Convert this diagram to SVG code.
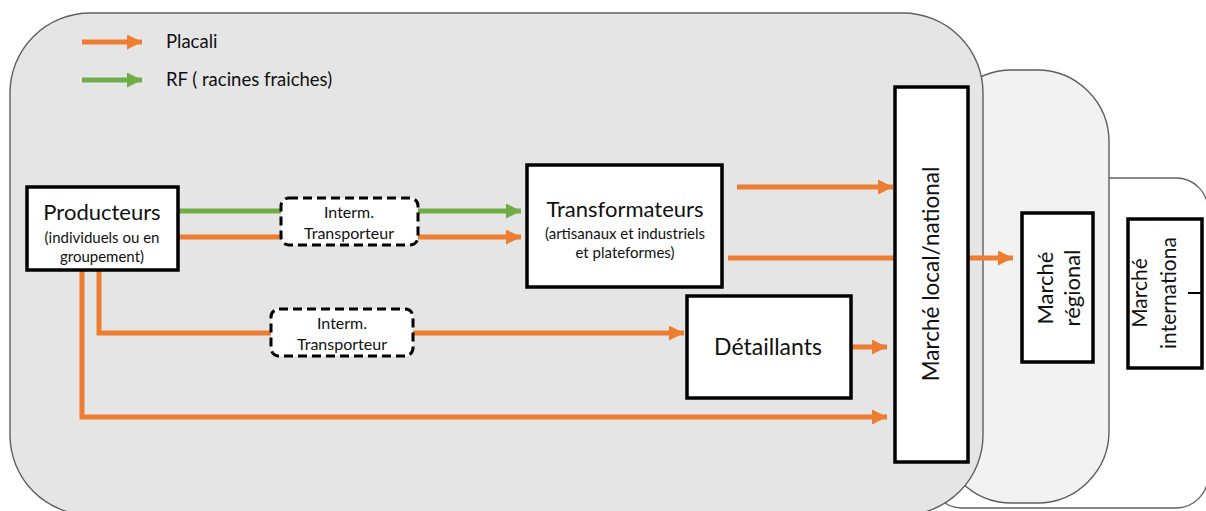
<svg xmlns="http://www.w3.org/2000/svg" width="1206" height="511" viewBox="0 0 1206 511">
  <defs>
    <marker id="ah-orange" markerWidth="4" markerHeight="4" refX="3" refY="1.5" orient="auto" markerUnits="strokeWidth">
      <path d="M0,0 L3,1.5 L0,3 Z" fill="#ED7D31"/>
    </marker>
    <marker id="ah-green" markerWidth="4" markerHeight="4" refX="3" refY="1.5" orient="auto" markerUnits="strokeWidth">
      <path d="M0,0 L3,1.5 L0,3 Z" fill="#70AD47"/>
    </marker>
    <style>
      .panel { stroke: #5f5f5f; stroke-width: 1.4; }
      .box { fill: #ffffff; stroke: #000000; stroke-width: 3.5; }
      .dash { fill: #ffffff; stroke: #000000; stroke-width: 3; stroke-dasharray: 9 5; }
      .or { fill: none; stroke: #ED7D31; stroke-width: 5; }
      .or-a { fill: none; stroke: #ED7D31; stroke-width: 5; marker-end: url(#ah-orange); }
      .gr { fill: none; stroke: #70AD47; stroke-width: 5; }
      .gr-a { fill: none; stroke: #70AD47; stroke-width: 5; marker-end: url(#ah-green); }
      text { font-family: Lato, "Open Sans", "Liberation Sans", sans-serif; fill: #111111; }
      .big { font-size: 22px; text-anchor: middle; }
      .sub { font-size: 15px; text-anchor: middle; }
      .mid { font-size: 16px; text-anchor: middle; }
      .leg { font-size: 18.5px; }
    </style>
  </defs>

  <!-- market scopes, back to front -->
  <g id="scope-international">
    <rect class="panel" x="930" y="178" width="278" height="330" rx="32" ry="32" fill="#ffffff"/>
  </g>
  <g id="scope-regional">
    <rect class="panel" x="940" y="70" width="169" height="433" rx="72" ry="72" fill="#f2f2f2"/>
  </g>
  <g id="scope-national">
    <rect class="panel" x="10" y="13" width="973" height="502" rx="80" ry="80" fill="#e6e5e6"/>
  </g>

  <!-- legend -->
  <g id="legend">
    <line class="or-a" x1="82" y1="42" x2="142" y2="42"/>
    <text class="leg" x="166" y="48">Placali</text>
    <line class="gr-a" x1="82" y1="80" x2="142" y2="80"/>
    <text class="leg" x="166" y="86">RF ( racines fraiches)</text>
  </g>

  <!-- flows -->
  <g id="connectors">
    <line class="gr" x1="178" y1="211" x2="281" y2="211"/>
    <line class="gr-a" x1="418" y1="211" x2="521" y2="211"/>
    <line class="or" x1="178" y1="237" x2="281" y2="237"/>
    <line class="or-a" x1="418" y1="237" x2="521" y2="237"/>
    <polyline class="or" points="99,270 99,333 271,333"/>
    <line class="or-a" x1="413" y1="333" x2="684" y2="333"/>
    <polyline class="or-a" points="82,270 82,417 887,417"/>
    <line class="or-a" x1="737" y1="187" x2="893" y2="187"/>
    <line class="or" x1="728" y1="258" x2="895" y2="258"/>
    <line class="or-a" x1="969" y1="258" x2="1013" y2="258"/>
    <line class="or-a" x1="851" y1="347" x2="887" y2="347"/>
  </g>

  <g id="producteurs">
    <rect class="box" x="27" y="187" width="151" height="83"/>
    <text class="big" x="102" y="220">Producteurs</text>
    <text class="sub" x="102" y="243">(individuels ou en</text>
    <text class="sub" x="102" y="262">groupement)</text>
  </g>

  <g id="intermediaire-1">
    <rect class="dash" x="281" y="198" width="137" height="47" rx="8" ry="8"/>
    <text class="mid" x="349" y="218">Interm.</text>
    <text class="mid" x="349" y="239">Transporteur</text>
  </g>

  <g id="intermediaire-2">
    <rect class="dash" x="271" y="309" width="142" height="47" rx="8" ry="8"/>
    <text class="mid" x="342" y="329">Interm.</text>
    <text class="mid" x="342" y="350">Transporteur</text>
  </g>

  <g id="transformateurs">
    <rect class="box" x="527" y="165" width="195" height="122"/>
    <text class="big" x="625" y="217">Transformateurs</text>
    <text class="sub" x="625" y="239">(artisanaux et industriels</text>
    <text class="sub" x="625" y="258">et plateformes)</text>
  </g>

  <g id="detaillants">
    <rect class="box" x="687" y="296" width="164" height="102"/>
    <text class="big" x="768" y="355" style="font-size:23px">Détaillants</text>
  </g>

  <g id="marche-local">
    <rect class="box" x="895" y="87" width="73" height="375"/>
    <text class="big" transform="translate(931,274) rotate(-90)" dy="8" style="font-size:22.5px">Marché local/national</text>
  </g>

  <g id="marche-regional">
    <rect class="box" x="1022" y="213" width="71" height="149"/>
    <text class="big" transform="translate(1045,288) rotate(-90)" dy="8">Marché</text>
    <text class="big" transform="translate(1072,288) rotate(-90)" dy="8">régional</text>
  </g>

  <g id="marche-international">
    <rect class="box" x="1128" y="219" width="74" height="149"/>
    <text class="big" transform="translate(1139,293) rotate(-90)" dy="8" style="font-size:21px">Marché</text>
    <text class="big" transform="translate(1168,293) rotate(-90)" dy="8" style="font-size:21px">internationa</text>
    <line x1="1188" y1="293" x2="1202" y2="293" stroke="#000000" stroke-width="2"/>
  </g>
</svg>
